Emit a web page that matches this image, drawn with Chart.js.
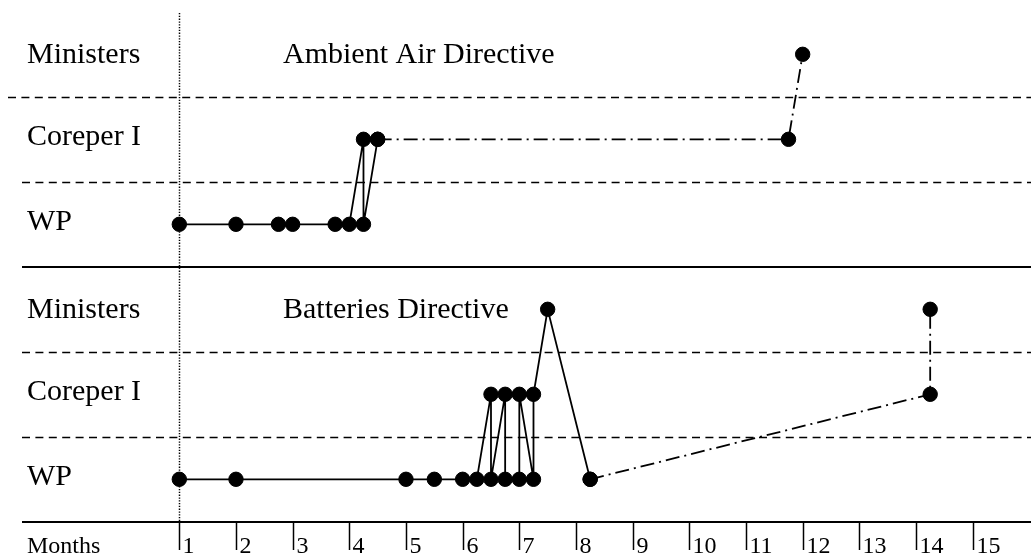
<!DOCTYPE html>
<html>
<head>
<meta charset="utf-8">
<script src="https://cdn.jsdelivr.net/npm/chart.js@4/dist/chart.umd.min.js"></script>
<style>
  html, body { margin: 0; padding: 0; background: #fff; }
  #wrap { width: 1031px; height: 558px; position: relative; }
</style>
</head>
<body>
<div id="wrap"><canvas id="timeline"></canvas></div>
<script>
// levels from bottom to top inside one panel
var levels = ['WP', 'Coreper I', 'Ministers'];
var monthTicks = [1, 2, 3, 4, 5, 6, 7, 8, 9, 10, 11, 12, 13, 14, 15];

var airTitle = 'Ambient Air Directive';
var airMonths = [1, 2, 2.75, 3, 3.75, 4, 4.25, 4.25, 4.5];
var airLevels = ['WP', 'WP', 'WP', 'WP', 'WP', 'WP', 'Coreper I', 'WP', 'Coreper I'];
var airLateMonths = [4.5, 11.75, 12];
var airLateLevels = ['Coreper I', 'Coreper I', 'Ministers'];

var batTitle = 'Batteries Directive';
var batMonths = [1, 2, 5, 5.5, 6, 6.25, 6.5, 6.5, 6.75, 6.75, 7, 7, 7.25, 7.25, 7.5, 8.25];
var batLevels = ['WP', 'WP', 'WP', 'WP', 'WP', 'WP', 'Coreper I', 'WP', 'Coreper I', 'WP',
                 'WP', 'Coreper I', 'WP', 'Coreper I', 'Ministers', 'WP'];
var batLateMonths = [8.25, 14.25, 14.25];
var batLateLevels = ['WP', 'Coreper I', 'Ministers'];

// top panel sits 3 steps above the bottom one
var AIR_BASE = 3, BAT_BASE = 0;

function toPoints(ms, lv, base) {
  return ms.map(function (m, i) {
    return { x: m, y: base + levels.indexOf(lv[i]) };
  });
}

var serif = '"Liberation Serif", "Times New Roman", serif';

function hline(ctx, x0, x1, py) {
  ctx.beginPath();
  ctx.moveTo(x0, py);
  ctx.lineTo(x1, py);
  ctx.stroke();
}

var paperPlugin = {
  id: 'paper',
  beforeDatasetsDraw: function (chart) {
    var ctx = chart.ctx, xs = chart.scales.x, ys = chart.scales.y, w = chart.width;
    ctx.save();
    ctx.strokeStyle = '#000';

    // dashed level separators
    ctx.lineWidth = 1.5;
    ctx.setLineDash([8, 5.4]);
    [0.5, 1.5, 3.5, 4.5].forEach(function (v) {
      var py = Math.round(ys.getPixelForValue(v)) + 0.5;
      hline(ctx, v === 4.5 ? 8 : 22, w, py);
    });

    // solid panel separator and month axis
    ctx.setLineDash([]);
    ctx.lineWidth = 2;
    hline(ctx, 22, w, Math.round(ys.getPixelForValue(2.5)));
    var axisY = Math.round(ys.getPixelForValue(-0.5));
    hline(ctx, 22, w, axisY);

    // dotted start line at month 1
    var x1 = Math.round(xs.getPixelForValue(1)) + 0.5;
    ctx.lineWidth = 1.5;
    ctx.setLineDash([1.3, 1.5]);
    ctx.beginPath();
    ctx.moveTo(x1, 13);
    ctx.lineTo(x1, axisY);
    ctx.stroke();

    // month ticks + labels
    ctx.setLineDash([]);
    ctx.lineWidth = 1.5;
    ctx.fillStyle = '#000';
    ctx.font = '24px ' + serif;
    ctx.textBaseline = 'alphabetic';
    ctx.textAlign = 'left';
    monthTicks.forEach(function (m) {
      var px = Math.round(xs.getPixelForValue(m)) + 0.5;
      ctx.beginPath();
      ctx.moveTo(px, axisY);
      ctx.lineTo(px, axisY + 28);
      ctx.stroke();
      ctx.fillText(String(m), px + 3, axisY + 31);
    });
    ctx.fillText('Months', 27, axisY + 31);

    // level names and titles
    ctx.font = '30px ' + serif;
    [AIR_BASE, BAT_BASE].forEach(function (base) {
      levels.forEach(function (name, i) {
        var py = ys.getPixelForValue(base + i);
        ctx.fillText(name, 27, py + (i === 2 ? 9 : 6));
      });
    });
    ctx.fillText(airTitle, xs.getPixelForValue(2.83), ys.getPixelForValue(AIR_BASE + 2) + 9);
    ctx.fillText(batTitle, xs.getPixelForValue(2.83), ys.getPixelForValue(BAT_BASE + 2) + 9);
    ctx.restore();
  }
};

function series(points, dash) {
  return {
    data: points,
    showLine: true,
    borderColor: '#000',
    borderWidth: 1.8,
    borderDash: dash,
    backgroundColor: '#000',
    pointBackgroundColor: '#000',
    pointBorderColor: '#000',
    pointRadius: 7.2,
    pointBorderWidth: 1,
    tension: 0
  };
}

var dashDot = [14, 5, 2, 5];

new Chart(document.getElementById('timeline'), {
  type: 'scatter',
  data: {
    datasets: [
      series(toPoints(airLateMonths, airLateLevels, AIR_BASE), dashDot),
      series(toPoints(airMonths, airLevels, AIR_BASE), []),
      series(toPoints(batLateMonths, batLateLevels, BAT_BASE), dashDot),
      series(toPoints(batMonths, batLevels, BAT_BASE), [])
    ]
  },
  options: {
    responsive: true,
    maintainAspectRatio: false,
    animation: false,
    events: [],
    layout: { padding: 0, autoPadding: false },
    plugins: { legend: { display: false }, tooltip: { enabled: false } },
    scales: {
      x: { type: 'linear', display: false, min: -2.164, max: 16.029 },
      y: { type: 'linear', display: false, min: -0.926, max: 5.639 }
    }
  },
  plugins: [paperPlugin]
});
</script>
</body>
</html>
